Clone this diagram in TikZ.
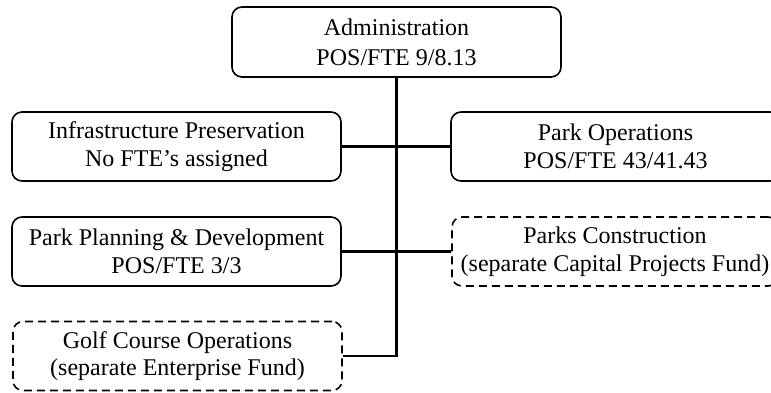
\documentclass[tikz,border=0pt]{standalone}
\usepackage{fontspec}
\setmainfont{Liberation Serif}
\begin{document}
\begin{tikzpicture}[x=1pt,y=-1pt,
  unitbox/.style={draw, line width=1.6pt, rounded corners=10pt,
    minimum width=329pt, minimum height=69pt, inner sep=0pt,
    align=center, font=\fontsize{24}{27.5}\selectfont},
  fundbox/.style={unitbox, dash pattern=on 8pt off 5pt},
  link/.style={line width=2.6pt}]
\useasboundingbox (0,0) rectangle (771,392);
\clip (0,0) rectangle (771,392);
% top-level unit
\node[unitbox, minimum width=329pt, minimum height=70pt,
  font=\fontsize{24}{30}\selectfont] (admin) at (396.5,42)
  {Administration\\POS/FTE 9/8.13};
% divisions
\node[unitbox] (infra) at (176.5,146.5)
  {Infrastructure Preservation\\No FTE’s assigned};
\node[unitbox] (ops) at (615.5,146.5)
  {Park Operations\\POS/FTE 43/41.43};
\node[unitbox] (plan) at (176.5,251.5)
  {Park Planning \& Development\\POS/FTE 3/3};
\node[fundbox, minimum width=326pt] (constr) at (615,251.5)
  {Parks Construction\\(separate Capital Projects Fund)};
\node[fundbox] (golf) at (177.5,356)
  {Golf Course Operations\\(separate Enterprise Fund)};
% connectors
\draw[link] (admin.south) -- (admin.south |- golf.east) -- (golf.east);
\draw[link] (infra.east) -- (ops.west);
\draw[link] (plan.east) -- (constr.west);
\end{tikzpicture}
\end{document}
